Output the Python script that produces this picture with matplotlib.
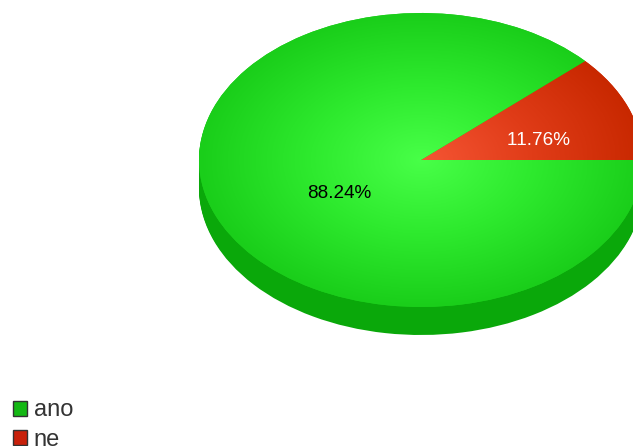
import numpy as np
import matplotlib
matplotlib.use("Agg")
import matplotlib.pyplot as plt
from matplotlib.patches import Patch
from matplotlib.colors import LinearSegmentedColormap

categories = ["ano", "ne"]
values = [88.24, 11.76]
label_colors = ["black", "white"]
legend_colors = ["#14b814", "#c8200a"]

W, H = 633, 446
CX, CY, RX, RY, DEPTH = 421, 160, 222, 147, 28

plt.rcParams["font.family"] = ["Liberation Sans", "DejaVu Sans"]
plt.rcParams["text.kerning_factor"] = 6
fig = plt.figure(figsize=(W / 100, H / 100), dpi=100)
ax = fig.add_axes([0, 0, 1, 1])
ax.axis("off")

order = [values[1], values[0]]  # red wedge runs counter-clockwise from 3 o'clock


def pie_layer(center_y, colors):
    wedges, _ = ax.pie(order, colors=colors, startangle=0, counterclock=True,
                       center=(0, center_y), radius=1, frame=True,
                       wedgeprops=dict(linewidth=0))
    return wedges


# Extruded side, built up from the bottom
for d in range(DEPTH, 0, -1):
    pie_layer(-d / RY, ["#c82000", "#0aa80a"])

wedges = pie_layer(0, ["#d42a04", "#1ccc1c"])

ax.set_aspect("auto")
ax.set_xlim(-CX / RX, (W - CX) / RX)
ax.set_ylim((CY - H) / RY, CY / RY)
ax.axis("off")

# Radial shading of the top face
yy, xx = np.mgrid[-1.02:1.02:500j, -1.02:1.02:500j]
rr = np.hypot(xx, yy)
green = LinearSegmentedColormap.from_list("g", ["#48ff48", "#2eea2e", "#1ace1a"])
red = LinearSegmentedColormap.from_list("r", ["#f55534", "#e03c18", "#c82800"])
for wedge, cmap in zip(wedges, [red, green]):
    im = ax.imshow(rr, extent=(-1.02, 1.02, -1.02, 1.02), origin="lower",
                   cmap=cmap, vmin=0, vmax=1, aspect="auto", zorder=3,
                   interpolation="bilinear")
    im.set_clip_path(wedge)
ax.set_aspect("auto")
ax.set_xlim(-CX / RX, (W - CX) / RX)
ax.set_ylim((CY - H) / RY, CY / RY)

# Percentage labels
ax.text((339 - CX) / RX, (CY - 193) / RY, f"{values[0]:.2f}%", color=label_colors[0],
        ha="center", va="center", fontsize=13.6, zorder=5)
ax.text((539 - CX) / RX, (CY - 140) / RY, f"{values[1]:.2f}%", color=label_colors[1],
        ha="center", va="center", fontsize=13.6, zorder=5)

# Legend
handles = [Patch(facecolor=c, edgecolor="#333333", linewidth=1) for c in legend_colors]
fig.legend(handles, categories, loc="upper left",
           bbox_to_anchor=(13 / W, 1 - 399.5 / H), bbox_transform=fig.transFigure,
           frameon=False, fontsize=17, borderpad=0, borderaxespad=0,
           handlelength=0.58, handleheight=0.58, handletextpad=0.3,
           labelspacing=0.3, labelcolor="#333333")

fig.savefig("out.png", dpi=100)
